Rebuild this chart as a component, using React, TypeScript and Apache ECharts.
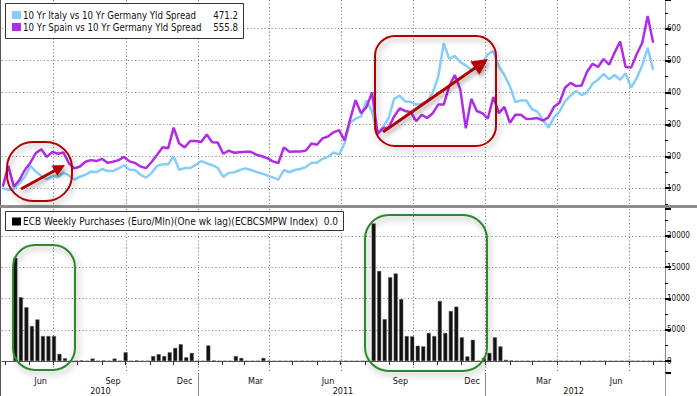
import React, { useEffect, useRef } from "react";
import * as echarts from "echarts";

// ---- data ----
const AXIS_START = "2010-04-27";
const AXIS_END = "2012-08-16";
const SPREAD_START = "2010-04-28"; // weekly observations
const ECB_START = "2010-05-14"; // weekly observations

const italySpread = [
  100, 95, 98, 115, 136, 170, 152, 138, 128, 138,
  136, 148, 140, 127, 136, 142, 152, 150, 160, 154,
  154, 162, 172, 158, 157, 142, 133, 148, 170, 175,
  175, 200, 158, 163, 163, 173, 185, 178, 172, 164,
  135, 148, 150, 157, 162, 157, 151, 146, 140, 134,
  127, 157, 150, 157, 160, 166, 180, 180, 192, 198,
  212, 205, 240, 305, 318, 325, 375, 340, 272, 292,
  320, 380, 390, 372, 371, 362, 365, 372, 400, 450,
  555, 505, 515, 495, 485, 470, 480, 492, 520, 530,
  481, 455, 420, 370, 375, 375, 348, 340, 315, 290,
  322, 340, 372, 390, 405, 392, 400, 428, 440, 458,
  442, 455, 440, 460, 415, 445, 485, 540, 471,
];

const spainSpread = [
  105, 170, 105, 125, 157, 180, 210, 222, 198, 214,
  208, 212, 178, 162, 168, 183, 188, 185, 192, 180,
  183, 188, 198, 184, 179, 168, 163, 182, 205, 228,
  225, 290, 240, 228, 248, 248, 245, 268, 244, 243,
  208, 218, 211, 213, 214, 214, 205, 200, 194, 184,
  179, 228, 214, 215, 215, 218, 240, 236, 256, 262,
  275, 282, 250, 315, 376, 335, 355, 400, 270, 288,
  290, 325, 350, 342, 339, 310, 330, 320, 335, 362,
  362, 420, 455, 410, 288, 380, 342, 335, 318, 386,
  335, 355, 305, 330, 330, 317, 318, 320, 312, 322,
  355, 368, 415, 430, 420, 422, 465, 490, 480, 505,
  487, 525, 560, 480, 478, 520, 555, 640, 556,
];

const ecbPurchases = [
  16500, 10200, 8600, 5600, 6650, 4000, 4000, 4000, 1150, 450,
  0, 0, 100, 0, 400, 0, 100, 0, 400, 0,
  1400, 0, 100, 0, 0, 800, 1100, 800, 1400, 2100,
  2700, 600, 1300, 0, 0, 2500, 100, 0, 0, 0,
  800, 500, 0, 0, 0, 500, 0, 0, 0, 0,
  0, 0, 0, 0, 0, 0, 0, 0, 0, 0,
  0, 0, 0, 0, 0, 22000, 14400, 6700, 13400, 14000,
  9900, 4000, 3950, 2450, 2350, 4500, 4000, 9600, 4500, 8000,
  8700, 3800, 750, 3400, 0, 500, 1300, 3800, 2350, 200,
  100, 0, 0, 0, 0, 0, 0, 0, 0, 0,
  0, 0, 0, 0, 0, 0, 0, 0, 0, 0,
  0, 0, 0, 0, 0, 0, 0, 0,
];

const MONTH_NAMES = ["Jan", "Feb", "Mar", "Apr", "May", "Jun", "Jul", "Aug", "Sep", "Oct", "Nov", "Dec"];
const labelledMonths = [3, 6, 9, 12];
const quarterStartMonths = [1, 4, 7, 10];
const yearLabelDates = ["2010-08-30", "2011-07-04", "2012-04-22"];

const italyName = "10 Yr Italy vs 10 Yr Germany Yld Spread";
const spainName = "10 Yr Spain vs 10 Yr Germany Yld Spread";
const ecbName = "ECB Weekly Purchases (Euro/Mln)(One wk lag)(ECBCSMPW Index)";
const italyLast = "471.2";
const spainLast = "555.8";
const ecbLast = "0.0";

// ---- helpers ----
function addDays(iso: string, n: number): string {
  const d = new Date(iso + "T00:00:00Z");
  d.setUTCDate(d.getUTCDate() + n);
  return d.toISOString().slice(0, 10);
}
function dayRange(a: string, b: string): string[] {
  const out: string[] = [];
  let cur = a;
  while (cur <= b) {
    out.push(cur);
    cur = addDays(cur, 1);
  }
  return out;
}
const days = dayRange(AXIS_START, AXIS_END);
const monthOf = (v: string) => parseInt(v.slice(5, 7), 10);
const dayOf = (v: string) => parseInt(v.slice(8, 10), 10);
const quarterStarts = days.filter((v) => dayOf(v) === 1 && quarterStartMonths.includes(monthOf(v)));

const FONT = "'DejaVu Sans Condensed', 'DejaVu Sans', sans-serif";
const ITALY_COLOR = "#86CDFB";
const SPAIN_COLOR = "#B02CE6";
const RED = "#B30000";
const GREEN = "#2C8A2C";
const DOT_COLOR = "#808080";
const DOTS = [1, 2.5];

function arrow(x1: number, y1: number, x2: number, y2: number, head: number, half: number) {
  const dx = x2 - x1;
  const dy = y2 - y1;
  const len = Math.sqrt(dx * dx + dy * dy);
  const ux = dx / len;
  const uy = dy / len;
  const bx = x2 - head * ux;
  const by = y2 - head * uy;
  const px = -uy;
  const py = ux;
  const shadow = { shadowBlur: 4, shadowColor: "rgba(0,0,0,0.35)", shadowOffsetX: 2, shadowOffsetY: 3 };
  return [
    { type: "line", z: 100, shape: { x1, y1, x2: bx + ux * 2, y2: by + uy * 2 }, style: { stroke: RED, lineWidth: 3, ...shadow } },
    {
      type: "polygon",
      z: 101,
      shape: { points: [[x2, y2], [bx + px * half, by + py * half], [bx - px * half, by - py * half]] },
      style: { fill: RED, ...shadow },
    },
  ];
}

function roundBox(x: number, y: number, w: number, h: number, r: number, color: string) {
  return {
    type: "rect",
    z: 100,
    shape: { x, y, width: w, height: h, r },
    style: {
      fill: "none",
      stroke: color,
      lineWidth: 2,
      shadowBlur: 6,
      shadowColor: "rgba(0,0,0,0.35)",
      shadowOffsetX: 2,
      shadowOffsetY: 3,
    },
  };
}

function legendBox(x: number, y: number, w: number, h: number, fontSize: number, rows: { color: string; name: string; last: string; cy: number }[]) {
  const els: any[] = [
    { type: "rect", z: 110, shape: { x: x + 0.5, y: y + 0.5, width: w, height: h }, style: { fill: "#fff", stroke: "#333", lineWidth: 1 } },
  ];
  rows.forEach((r) => {
    els.push({ type: "rect", z: 111, shape: { x: x + 7, y: r.cy - 4, width: 9, height: 8 }, style: { fill: r.color } });
    els.push({
      type: "text",
      z: 111,
      style: { x: x + 18, y: r.cy, text: r.name, fill: "#111", font: `${fontSize}px ${FONT}`, verticalAlign: "middle" },
    });
    els.push({
      type: "text",
      z: 111,
      style: { x: x + w - 5, y: r.cy, text: r.last, fill: "#111", font: `${fontSize}px ${FONT}`, align: "right", verticalAlign: "middle" },
    });
  });
  return els;
}

// vertical dotted grid lines at quarter starts, positioned by the category axis
function quarterGridSeries(axisIndex: number) {
  return {
    type: "custom",
    xAxisIndex: axisIndex,
    yAxisIndex: axisIndex,
    z: 1,
    silent: true,
    clip: false,
    data: quarterStarts.map((d) => [d, 0]),
    renderItem: (params: any, api: any) => {
      const pt = api.coord([api.value(0), 0]);
      const cs = params.coordSys;
      const x = Math.round(pt[0]) + 0.5;
      return {
        type: "line",
        shape: { x1: x, y1: cs.y, x2: x, y2: cs.y + cs.height },
        style: { stroke: "#6f6f6f", lineWidth: 1, lineDash: [1, 2.5] },
      };
    },
  };
}

export default function App() {
  const ref = useRef<HTMLDivElement>(null);
  useEffect(() => {
    if (!ref.current) return;
    const chart = echarts.init(ref.current, undefined, { renderer: "svg" });

    const italyData = italySpread.map((v, i) => [addDays(SPREAD_START, 7 * i), v]);
    const spainData = spainSpread.map((v, i) => [addDays(SPREAD_START, 7 * i), v]);
    const ecbData = ecbPurchases.map((v, i) => [addDays(ECB_START, 7 * i), v]);

    const yLabel = { showMinLabel: false, showMaxLabel: false, fontFamily: FONT, fontSize: 8, color: "#111", margin: 2, formatter: (v: number) => String(v) };

    const option: any = {
      animation: false,
      backgroundColor: "#fff",
      grid: [
        { left: 2, right: 32, top: 0, height: 207 },
        { left: 2, right: 32, top: 209, height: 164 },
      ],
      xAxis: [
        {
          type: "category",
          gridIndex: 0,
          data: days,
          boundaryGap: false,
          axisLine: { show: false },
          axisTick: { show: false },
          axisLabel: { show: false },
          splitLine: { show: false },
        },
        {
          type: "category",
          gridIndex: 1,
          data: days,
          boundaryGap: false,
          position: "bottom",
          axisLine: { show: true, lineStyle: { color: "#555", width: 1 } },
          axisTick: { show: true, interval: (_i: number, v: string) => dayOf(v) === 1, length: 4, lineStyle: { color: "#333" } },
          axisLabel: {
            show: true,
            interval: (_i: number, v: string) => dayOf(v) === 15 && labelledMonths.includes(monthOf(v)),
            formatter: (v: string) => MONTH_NAMES[monthOf(v) - 1],
            fontFamily: FONT,
            fontSize: 9,
            color: "#111",
            margin: 3,
          },
          splitLine: { show: false },
        },
        {
          type: "category",
          gridIndex: 1,
          data: days,
          boundaryGap: false,
          position: "bottom",
          axisLine: { show: false },
          axisTick: {
            show: true,
            interval: (_i: number, v: string) => dayOf(v) === 1 && monthOf(v) === 1,
            length: 23,
            lineStyle: { color: "#888" },
          },
          axisLabel: {
            show: true,
            interval: (_i: number, v: string) => yearLabelDates.includes(v),
            formatter: (v: string) => v.slice(0, 4),
            fontFamily: FONT,
            fontSize: 9,
            color: "#111",
            margin: 13,
          },
          splitLine: { show: false },
        },
      ],
      yAxis: [
        {
          type: "value",
          gridIndex: 0,
          position: "right",
          min: 41,
          max: 690,
          splitNumber: 7,
          axisLine: { show: true, lineStyle: { color: "#888" } },
          axisTick: { show: true, length: 6, lineStyle: { color: "#000", width: 2 } },
          minorTick: { show: true, splitNumber: 2, length: 3, lineStyle: { color: "#000" } },
          axisLabel: yLabel,
          splitLine: {
            show: true,
            lineStyle: { type: DOTS, color: ["transparent", DOT_COLOR, DOT_COLOR, DOT_COLOR, DOT_COLOR, DOT_COLOR, DOT_COLOR, "transparent"] },
          },
        },
        {
          type: "value",
          gridIndex: 1,
          position: "right",
          min: -1900,
          max: 24300,
          splitNumber: 5,
          axisLine: { show: true, lineStyle: { color: "#888" } },
          axisTick: { show: true, length: 6, lineStyle: { color: "#000", width: 2 } },
          minorTick: { show: true, splitNumber: 2, length: 3, lineStyle: { color: "#000" } },
          axisLabel: yLabel,
          splitLine: {
            show: true,
            lineStyle: { type: DOTS, color: ["transparent", "#222", DOT_COLOR, DOT_COLOR, DOT_COLOR, DOT_COLOR, "transparent"] },
          },
        },
      ],
      series: [
        quarterGridSeries(0),
        quarterGridSeries(1),
        {
          name: italyName,
          type: "line",
          xAxisIndex: 0,
          yAxisIndex: 0,
          data: italyData,
          showSymbol: false,
          lineStyle: { color: ITALY_COLOR, width: 2.5 },
          itemStyle: { color: ITALY_COLOR },
        },
        {
          name: spainName,
          type: "line",
          xAxisIndex: 0,
          yAxisIndex: 0,
          data: spainData,
          showSymbol: false,
          lineStyle: { color: SPAIN_COLOR, width: 2.5 },
          itemStyle: { color: SPAIN_COLOR },
        },
        {
          name: ecbName,
          type: "bar",
          xAxisIndex: 1,
          yAxisIndex: 1,
          data: ecbData,
          barWidth: 4,
          itemStyle: { color: "#111", borderColor: "#555", borderWidth: 0.5 },
        },
      ],
      graphic: [
        { type: "line", z: 90, shape: { x1: 0.5, y1: 0, x2: 0.5, y2: 396 }, style: { stroke: "#555", lineWidth: 1 } },
        { type: "rect", z: 90, shape: { x: 0, y: 205, width: 697, height: 3 }, style: { fill: "#8c8c8c" } },
        { type: "line", z: 90, shape: { x1: 665.5, y1: 373, x2: 665.5, y2: 396 }, style: { stroke: "#999", lineWidth: 1 } },
        ...legendBox(5, 3, 238, 35, 9.6, [
          { color: ITALY_COLOR, name: italyName, last: italyLast, cy: 15 },
          { color: SPAIN_COLOR, name: spainName, last: spainLast, cy: 27 },
        ]),
        ...legendBox(5, 211, 338, 19, 10, [{ color: "#000", name: ecbName, last: ecbLast, cy: 221.5 }]),
        roundBox(7, 142, 65, 59, 26, RED),
        roundBox(375, 36, 121, 110, 20, RED),
        roundBox(13, 245, 62, 125, 22, GREEN),
        roundBox(365, 215, 122, 156, 24, GREEN),
        ...arrow(21, 189, 65, 165, 12, 6),
        ...arrow(383, 132, 488, 59, 16, 8),
      ],
    };
    chart.setOption(option);
    return () => chart.dispose();
  }, []);
  return <div ref={ref} style={{ position: "fixed", left: 0, top: 0, width: 697, height: 396, background: "#fff" }} />;
}
